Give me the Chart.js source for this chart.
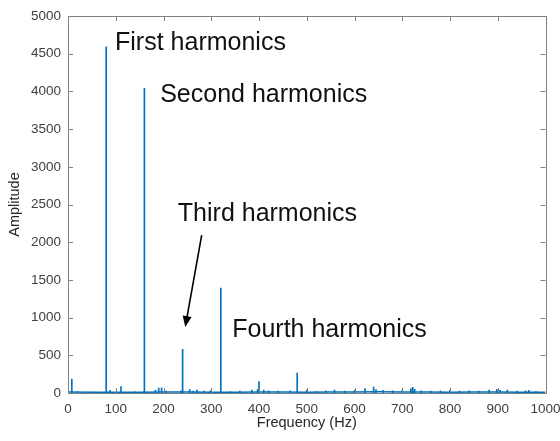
<!DOCTYPE html>
<html>
<head>
<meta charset="utf-8">
<script src="https://cdn.jsdelivr.net/npm/chart.js@4/dist/chart.umd.min.js"></script>
<style>
  html, body { margin: 0; padding: 0; background: #fff; }
  #wrap { width: 560px; height: 441px; }
</style>
</head>
<body>
<div id="wrap"><canvas id="spectrum"></canvas></div>
<script>
// spectrum lines (Hz, amplitude)
const peakFreq = [8, 20, 50, 80, 88, 111, 140, 160, 183, 190, 196, 205, 237, 240, 255, 262, 270, 285, 298,
  320, 340, 360, 385, 397, 400, 410, 420, 440, 465, 480, 500, 520, 540, 558, 580, 600, 622, 640, 645,
  660, 680, 700, 718, 722, 726, 740, 760, 780, 800, 820, 840, 860, 882, 898, 905, 920, 940, 958, 965, 980];
const peakAmp = [185, 15, 12, 4590, 35, 85, 15, 4040, 40, 65, 70, 25, 30, 580, 45, 25, 40, 25, 30,
  1390, 20, 25, 40, 45, 150, 40, 30, 25, 30, 265, 40, 20, 30, 40, 25, 35, 60, 80, 45,
  35, 30, 40, 60, 75, 50, 30, 25, 30, 35, 25, 30, 25, 40, 50, 35, 40, 25, 30, 35, 20];

// noise floor along the bottom
const floorFreq = [0, 50, 100, 150, 200, 250, 300, 350, 400, 450, 500, 550, 600, 650, 700, 750, 800, 850, 900, 950, 1000];
const floorAmp = [12, 10, 11, 9, 13, 12, 10, 11, 14, 12, 11, 13, 12, 15, 14, 12, 11, 12, 13, 11, 10];

const xTicks = [0, 100, 200, 300, 400, 500, 600, 700, 800, 900, 1000];
const yTicks = [0, 500, 1000, 1500, 2000, 2500, 3000, 3500, 4000, 4500, 5000];

const blue = "#0072BD";
const axisGray = "#808080";

const notes = [
  { text: "First harmonics", x: 98.5, y: 4549 },
  { text: "Second harmonics", x: 193, y: 3859 },
  { text: "Third harmonics", x: 230, y: 2281 },
  { text: "Fourth harmonics", x: 344, y: 747 }
];

// axes box, inward ticks, labels and the arrow
const decor = {
  id: "decor",
  afterDraw(chart) {
    const { ctx, chartArea: a, scales: { x, y } } = chart;
    ctx.save();
    ctx.strokeStyle = axisGray;
    ctx.lineWidth = 1;
    ctx.strokeRect(Math.round(a.left) + 0.5, Math.round(a.top) + 0.5,
      Math.round(a.right - a.left), Math.round(a.bottom - a.top));
    ctx.beginPath();
    xTicks.forEach(v => {
      const px = Math.round(x.getPixelForValue(v)) + 0.5;
      ctx.moveTo(px, a.bottom); ctx.lineTo(px, a.bottom - 5);
      ctx.moveTo(px, a.top); ctx.lineTo(px, a.top + 5);
    });
    yTicks.forEach(v => {
      const py = Math.round(y.getPixelForValue(v)) + 0.5;
      ctx.moveTo(a.left, py); ctx.lineTo(a.left + 5, py);
      ctx.moveTo(a.right, py); ctx.lineTo(a.right - 5, py);
    });
    ctx.stroke();

    ctx.fillStyle = "#111";
    ctx.font = "25px 'Liberation Sans', Arial, sans-serif";
    ctx.textBaseline = "alphabetic";
    notes.forEach(n => ctx.fillText(n.text, x.getPixelForValue(n.x), y.getPixelForValue(n.y)));

    // arrow to the third harmonic
    const x0 = x.getPixelForValue(280), y0 = y.getPixelForValue(2095);
    const x1 = x.getPixelForValue(245.5), y1 = y.getPixelForValue(875);
    const ang = Math.atan2(y1 - y0, x1 - x0);
    ctx.strokeStyle = "#000";
    ctx.lineWidth = 1.6;
    ctx.beginPath();
    ctx.moveTo(x0, y0);
    ctx.lineTo(x1 - 8 * Math.cos(ang), y1 - 8 * Math.sin(ang));
    ctx.stroke();
    ctx.fillStyle = "#000";
    ctx.beginPath();
    ctx.moveTo(x1, y1);
    ctx.lineTo(x1 - 11 * Math.cos(ang) + 4.5 * Math.sin(ang), y1 - 11 * Math.sin(ang) - 4.5 * Math.cos(ang));
    ctx.lineTo(x1 - 11 * Math.cos(ang) - 4.5 * Math.sin(ang), y1 - 11 * Math.sin(ang) + 4.5 * Math.cos(ang));
    ctx.closePath();
    ctx.fill();
    ctx.restore();
  }
};

const tickFont = { family: "'Liberation Sans', Arial", size: 13.5 };
const plain = v => String(v);

new Chart(document.getElementById("spectrum"), {
  type: "bar",
  data: {
    datasets: [
      {
        type: "line",
        data: floorFreq.map((f, i) => ({ x: f, y: floorAmp[i] })),
        borderColor: blue,
        borderWidth: 1.5,
        pointRadius: 0,
        tension: 0
      },
      {
        data: peakFreq.map((f, i) => ({ x: f, y: peakAmp[i] })),
        backgroundColor: blue,
        borderWidth: 0,
        barThickness: 1
      }
    ]
  },
  plugins: [decor],
  options: {
    responsive: true,
    maintainAspectRatio: false,
    animation: false,
    layout: { padding: { top: 16, right: 14.5, left: 0, bottom: 0 } },
    plugins: { legend: { display: false }, tooltip: { enabled: false } },
    scales: {
      x: {
        type: "linear",
        min: 0,
        max: 1000,
        offset: false,
        afterFit: s => { s.height = 48; s.paddingLeft = 0; s.paddingRight = 0; },
        afterBuildTicks: s => { s.ticks = xTicks.map(v => ({ value: v })); },
        grid: { display: false, drawTicks: false },
        border: { display: false },
        ticks: { padding: 8, color: "#404040", font: tickFont, maxRotation: 0, callback: plain },
        title: {
          display: true,
          text: "Frequency (Hz)",
          color: "#262626",
          padding: { top: 0, bottom: 9 },
          font: { family: "'Liberation Sans', Arial", size: 14.5 }
        }
      },
      y: {
        min: 0,
        max: 5000,
        afterFit: s => { s.width = 68; s.paddingTop = 0; s.paddingBottom = 0; },
        afterBuildTicks: s => { s.ticks = yTicks.map(v => ({ value: v })); },
        grid: { display: false, drawTicks: false },
        border: { display: false },
        ticks: { padding: 7, color: "#404040", font: tickFont, callback: plain },
        title: {
          display: true,
          text: "Amplitude",
          color: "#262626",
          padding: { top: 6, bottom: 0 },
          font: { family: "'Liberation Sans', Arial", size: 14.5 }
        }
      }
    }
  }
});
</script>
</body>
</html>
